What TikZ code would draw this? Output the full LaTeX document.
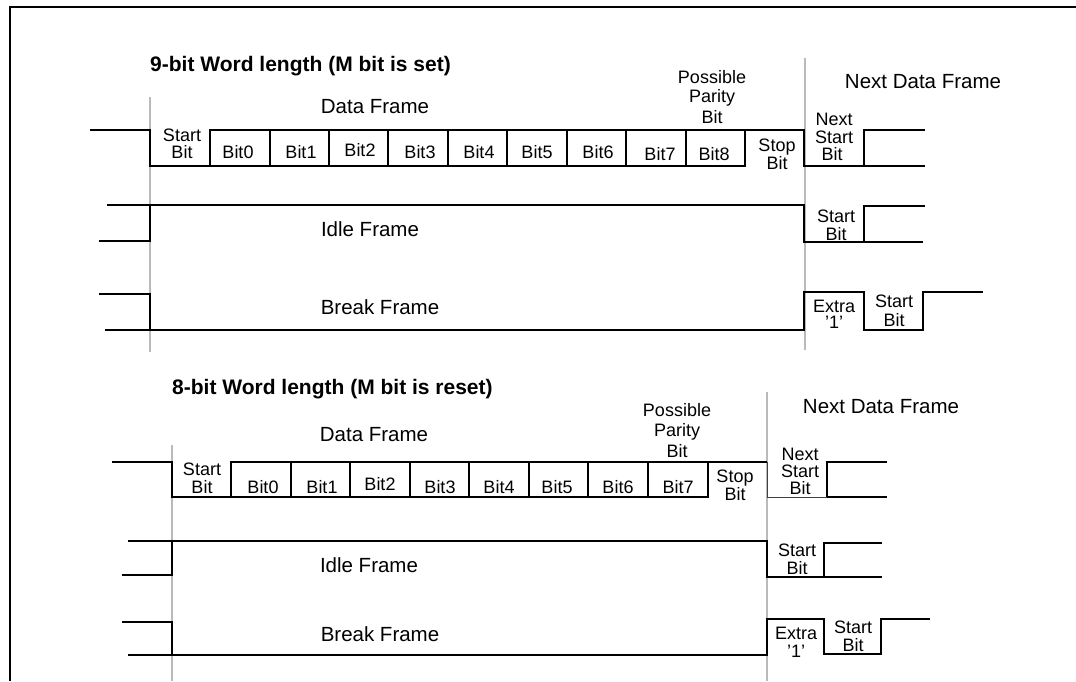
\documentclass[tikz,border=0pt]{standalone}
\usepackage{fontspec}
\setmainfont{Liberation Sans}
\begin{document}
\begin{tikzpicture}[x=1pt,y=-1pt,
  sig/.style={line width=2pt, line join=miter},
  thinsig/.style={line width=1pt, black!75},
  guide/.style={line width=1.5pt, black!27},
  frm/.style={line width=2.5pt},
  lbl/.style={font=\fontsize{18}{18}\selectfont, inner sep=0pt, anchor=base},
  big/.style={font=\fontsize{20.5}{22}\selectfont, inner sep=0pt, anchor=base},
  ttl/.style={font=\fontsize{21}{24}\selectfont\bfseries, inner sep=0pt, anchor=base west}]
\useasboundingbox (0,0) rectangle (1076,681);
\fill[white] (0,0) rectangle (1076,681);
% frame
\draw[frm] (10,681) -- (10,7) -- (1076,7);

% ================= 9-bit section =================
\draw[guide] (150,97) -- (150,352);
\draw[guide] (805,58) -- (805,350);
% data frame
\draw[sig] (90,130) -- (150,130) -- (150,166) -- (745,166) -- (745,130);
\draw[sig] (210,166) -- (210,130) -- (804,130) -- (804,166) -- (925,166);
\foreach \x in {270,329,388,448,507,567,626,686} \draw[sig] (\x,130) -- (\x,166);
\draw[sig] (864,166) -- (864,130) -- (925,130);
% idle frame
\draw[sig] (107,205) -- (804,205) -- (804,242) -- (923,242);
\draw[sig] (99,241) -- (150,241) -- (150,205);
\draw[sig] (864,242) -- (864,206) -- (925,206);
% break frame
\draw[sig] (99,294) -- (150,294) -- (150,330) -- (804,330) -- (804,292) -- (864,292) -- (864,330) -- (923,330) -- (923,292) -- (983,292);
\draw[sig] (105,330) -- (150,330);

\node[ttl] (t9) at (150,71) {9-bit Word length (M bit is set)};
\node[big] (df9) at (375,113) {Data Frame};
\node[big] (ndf9) at (923,88) {Next Data Frame};
\node[lbl] (pp9a) at (712,83) {Possible};
\node[lbl] (pp9b) at (712,102) {Parity};
\node[lbl] (pp9c) at (712,123) {Bit};
\node[lbl] (sb9a) at (182,141) {Start};
\node[lbl] (sb9b) at (182,158) {Bit};
\node[lbl] (b90) at (238,158) {Bit0};
\node[lbl] (b91) at (301,158) {Bit1};
\node[lbl] (b92) at (360,156) {Bit2};
\node[lbl] (b93) at (420,158) {Bit3};
\node[lbl] (b94) at (479,158) {Bit4};
\node[lbl] (b95) at (537,158) {Bit5};
\node[lbl] (b96) at (598,158) {Bit6};
\node[lbl] (b97) at (660,160) {Bit7};
\node[lbl] (b98) at (714,160) {Bit8};
\node[lbl] (st9a) at (777,151) {Stop};
\node[lbl] (st9b) at (777,169) {Bit};
\node[lbl] (ns9a) at (834,125) {Next};
\node[lbl] (ns9b) at (834,143) {Start};
\node[lbl] (ns9c) at (832,160) {Bit};
\node[big] (if9) at (370,236) {Idle Frame};
\node[lbl] (is9a) at (836,222) {Start};
\node[lbl] (is9b) at (836,240) {Bit};
\node[big] (bf9) at (380,314) {Break Frame};
\node[lbl] (ex9a) at (834,312) {Extra};
\node[lbl] (ex9b) at (834,328) {'1'};
\node[lbl] (bs9a) at (894,307) {Start};
\node[lbl] (bs9b) at (894,326) {Bit};

% ================= 8-bit section =================
\draw[guide] (172,445) -- (172,681);
\draw[guide] (767,392) -- (767,681);
% data frame
\draw[sig] (112,462) -- (172,462) -- (172,497) -- (708,497) -- (708,462);
\draw[sig] (231,497) -- (231,462) -- (767,462);
\draw[thinsig] (767,462) -- (767,497) -- (827,497);
\draw[sig] (827,497) -- (887,497);
\foreach \x in {291,350,410,469,529,588,648} \draw[sig] (\x,462) -- (\x,497);
\draw[sig] (827,497) -- (827,462) -- (887,462);
% idle frame
\draw[sig] (128,541) -- (767,541) -- (767,577) -- (882,577);
\draw[sig] (122,575) -- (172,575) -- (172,541);
\draw[sig] (824,577) -- (824,543) -- (882,543);
% break frame
\draw[sig] (122,622) -- (172,622) -- (172,655) -- (767,655) -- (767,619) -- (824,619) -- (824,654) -- (881,654) -- (881,619) -- (930,619);
\draw[sig] (128,655) -- (172,655);

\node[ttl] (t8) at (172,394) {8-bit Word length (M bit is reset)};
\node[big] (df8) at (374,441) {Data Frame};
\node[big] (ndf8) at (881,413) {Next Data Frame};
\node[lbl] (pp8a) at (677,416) {Possible};
\node[lbl] (pp8b) at (677,436) {Parity};
\node[lbl] (pp8c) at (677,457) {Bit};
\node[lbl] (sb8a) at (202,475) {Start};
\node[lbl] (sb8b) at (202,493) {Bit};
\node[lbl] (b80) at (263,493) {Bit0};
\node[lbl] (b81) at (322,493) {Bit1};
\node[lbl] (b82) at (380,490) {Bit2};
\node[lbl] (b83) at (440,493) {Bit3};
\node[lbl] (b84) at (499,493) {Bit4};
\node[lbl] (b85) at (557,493) {Bit5};
\node[lbl] (b86) at (618,493) {Bit6};
\node[lbl] (b87) at (678,493) {Bit7};
\node[lbl] (st8a) at (735,482) {Stop};
\node[lbl] (st8b) at (735,500) {Bit};
\node[lbl] (ns8a) at (800,460) {Next};
\node[lbl] (ns8b) at (800,477) {Start};
\node[lbl] (ns8c) at (800,494) {Bit};
\node[big] (if8) at (369,572) {Idle Frame};
\node[lbl] (is8a) at (797,556) {Start};
\node[lbl] (is8b) at (797,574) {Bit};
\node[big] (bf8) at (380,641) {Break Frame};
\node[lbl] (ex8a) at (796,639) {Extra};
\node[lbl] (ex8b) at (796,657) {'1'};
\node[lbl] (bs8a) at (853,633) {Start};
\node[lbl] (bs8b) at (853,651) {Bit};
\end{tikzpicture}
\end{document}
